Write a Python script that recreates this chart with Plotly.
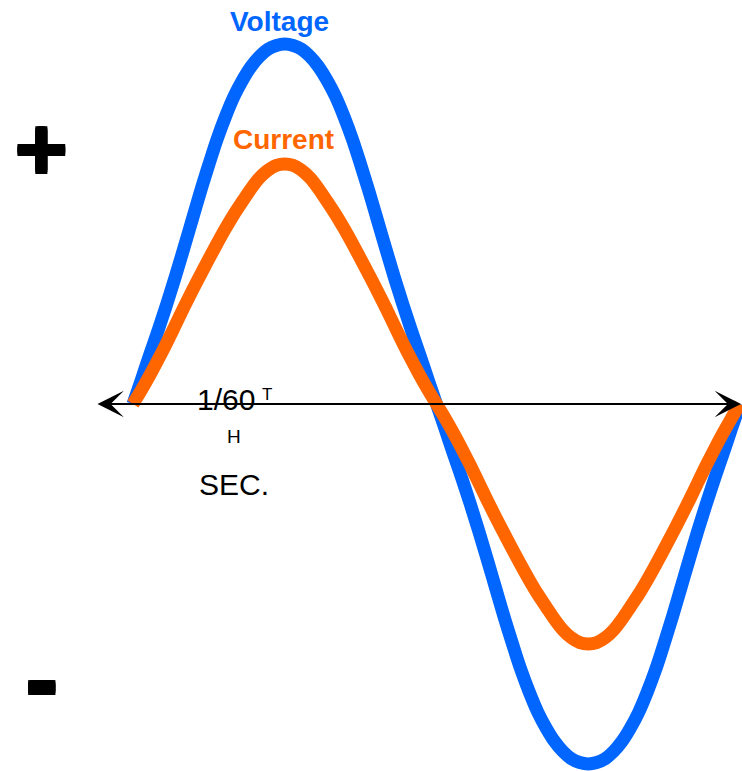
import plotly.graph_objects as go

# Phase angle (degrees) over one cycle, 5-degree steps
angle = [0, 5, 10, 15, 20, 25, 30, 35, 40, 45, 50, 55, 60, 65, 70, 75, 80, 85, 90,
         95, 100, 105, 110, 115, 120, 125, 130, 135, 140, 145, 150, 155, 160, 165, 170, 175, 180,
         185, 190, 195, 200, 205, 210, 215, 220, 225, 230, 235, 240, 245, 250, 255, 260, 265, 270,
         275, 280, 285, 290, 295, 300, 305, 310, 315, 320, 325, 330, 335, 340, 345, 350, 355, 360]
# Voltage (peak ~150 units)
voltage = [0, 10.2, 20.7, 30.9, 41.6, 52.8, 64.5, 76.5, 88.5, 99.8, 110.6, 120, 128.3, 135, 140.6, 144.8, 147.8, 149.4, 150,
           149.4, 147.8, 144.8, 140.6, 135, 128.3, 120, 110.6, 99.8, 88.5, 76.5, 64.5, 52.8, 41.6, 30.9, 20.7, 10.2, 0,
           -10.2, -20.7, -30.9, -41.6, -52.8, -64.5, -76.5, -88.5, -99.8, -110.6, -120, -128.3, -135, -140.6, -144.8, -147.8, -149.4, -150,
           -149.4, -147.8, -144.8, -140.6, -135, -128.3, -120, -110.6, -99.8, -88.5, -76.5, -64.5, -52.8, -41.6, -30.9, -20.7, -10.2, 0]
# Current (peak ~100 units)
current = [0, 5.8, 12, 18.6, 25.5, 32.7, 40, 47, 53.8, 60.5, 67, 73.3, 79.2, 84.5, 89.7, 94.2, 97.4, 99.4, 100,
           99.4, 97.4, 94.2, 89.7, 84.5, 79.2, 73.3, 67, 60.5, 53.8, 47, 40, 32.7, 25.5, 18.6, 12, 5.8, 0,
           -5.8, -12, -18.6, -25.5, -32.7, -40, -47, -53.8, -60.5, -67, -73.3, -79.2, -84.5, -89.7, -94.2, -97.4, -99.4, -100,
           -99.4, -97.4, -94.2, -89.7, -84.5, -79.2, -73.3, -67, -60.5, -53.8, -47, -40, -32.7, -25.5, -18.6, -12, -5.8, 0]

BLUE = "#0066FF"
ORANGE = "#FF6600"
W, H = 742, 771

def px(x):
    return x / W

def py(y):
    return 1 - y / H

fig = go.Figure()
fig.add_trace(go.Scatter(x=angle, y=voltage, mode="lines",
                         line=dict(color=BLUE, width=13, shape="spline", smoothing=1.0),
                         hoverinfo="skip", showlegend=False))
fig.add_trace(go.Scatter(x=angle, y=current, mode="lines",
                         line=dict(color=ORANGE, width=13, shape="spline", smoothing=1.0),
                         hoverinfo="skip", showlegend=False))

# axis mapping: 0 deg -> 133 px, 360 deg -> 740 px ; value 0 -> 404 px, 2.4 px/unit
sx = (740 - 133) / 360.0
x0 = -133 / sx
x1 = (W - 133) / sx
sy = 2.4
y1 = 404 / sy
y0 = -(H - 404) / sy

def dx(p):
    return (p - 133) / sx

thick = "2px 0 0 black, -2px 0 0 black, 0 2px 0 black, 0 -2px 0 black, 2px 2px 0 black, -2px -2px 0 black, 2px -2px 0 black, -2px 2px 0 black"

annotations = [
    # double-headed time axis arrow
    dict(x=dx(741), y=0, ax=dx(96), ay=0, xref="x", yref="y", axref="x", ayref="y",
         text="", showarrow=True, arrowhead=3, startarrowhead=3, arrowside="end+start",
         arrowwidth=2, arrowsize=2.2, startarrowsize=2.2, arrowcolor="black",
         standoff=0, startstandoff=0),
    dict(x=px(279), y=py(21), text="<b>Voltage</b>", font=dict(family="Liberation Sans", size=28, color=BLUE)),
    dict(x=px(283), y=py(139), text="<b>Current</b>", font=dict(family="Liberation Sans", size=28, color=ORANGE)),
    dict(x=px(226), y=py(399), text="1/60", font=dict(family="Liberation Sans", size=30, color="black")),
    dict(x=px(267), y=py(395), text="T", font=dict(family="Liberation Sans", size=17, color="black")),
    dict(x=px(234), y=py(436), text="H", font=dict(family="Liberation Sans", size=19, color="black")),
    dict(x=px(234), y=py(484), text="SEC.", font=dict(family="Liberation Sans", size=30, color="black")),
    dict(x=px(41), y=py(148), text="<b>+</b>",
         font=dict(family="DejaVu Sans", size=70, color="black", shadow=thick)),
    dict(x=px(41.5), y=py(683.5), text="<b>-</b>",
         font=dict(family="DejaVu Sans", size=76, color="black", shadow=thick)),
]
for a in annotations[1:]:
    a.update(xref="paper", yref="paper", showarrow=False, xanchor="center", yanchor="middle")

fig.update_layout(
    width=W, height=H, autosize=False,
    margin=dict(l=0, r=0, t=0, b=0, pad=0),
    paper_bgcolor="white", plot_bgcolor="white",
    xaxis=dict(range=[x0, x1], visible=False, fixedrange=True),
    yaxis=dict(range=[y0, y1], visible=False, fixedrange=True),
    annotations=annotations,
    showlegend=False,
)

fig.write_html("out.html", config={"displayModeBar": False},
               post_script="document.body.style.margin='0';document.body.style.overflow='hidden';")
